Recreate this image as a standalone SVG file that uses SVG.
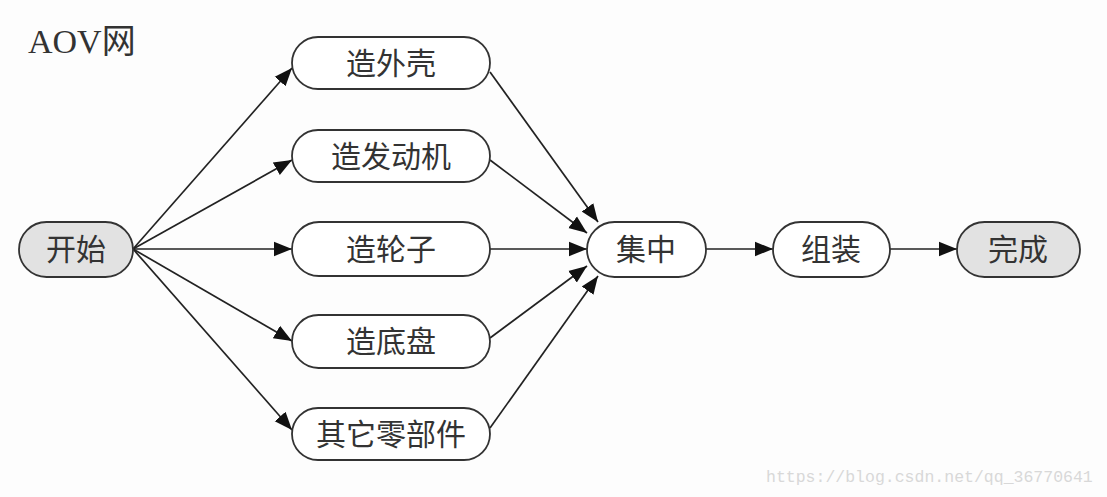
<svg xmlns="http://www.w3.org/2000/svg" width="1107" height="497" viewBox="0 0 1107 497">
<defs>
<marker id="ah" viewBox="0 0 10 10" refX="10" refY="5" markerWidth="18" markerHeight="18" markerUnits="userSpaceOnUse" orient="auto">
<path d="M0,1 L10,5 L0,9 z" fill="#111"/>
</marker>
<style>
.n rect{fill:#fff;stroke:#333;stroke-width:1.8}
.g rect{fill:#e2e2e2}
.n text{font-family:"Liberation Serif","Noto Sans CJK SC",serif;font-size:30px;fill:#333;text-anchor:middle;dominant-baseline:central}
.e path{fill:none;stroke:#222;stroke-width:1.7;marker-end:url(#ah)}
</style>
</defs>
<rect width="1107" height="497" fill="#fdfdfd"/>
<text x="28" y="53" font-family="Liberation Serif, Noto Sans CJK SC, serif" font-size="34" fill="#333">AOV网</text>
<g class="e">
<path d="M133,249 L292,68"/>
<path d="M133,249 L292,160"/>
<path d="M133,249 L292,249"/>
<path d="M133,249 L292,341"/>
<path d="M133,249 L292,430"/>
<path d="M490,72 L598,222"/>
<path d="M490,160 L587,233"/>
<path d="M490,249 L587,249"/>
<path d="M490,338 L587,266"/>
<path d="M490,428 L598,276"/>
<path d="M706,249 L773,249"/>
<path d="M890,249 L957,249"/>
</g>
<g id="start" class="n g"><rect x="19" y="222" width="114" height="55" rx="27.5"/><text x="76" y="249">开始</text></g>
<g id="shell" class="n"><rect x="292" y="37" width="198" height="52" rx="26"/><text x="391" y="63">造外壳</text></g>
<g id="engine" class="n"><rect x="292" y="130" width="198" height="52" rx="26"/><text x="391" y="156">造发动机</text></g>
<g id="wheel" class="n"><rect x="292" y="222" width="198" height="54" rx="27"/><text x="391" y="249">造轮子</text></g>
<g id="chassis" class="n"><rect x="292" y="315" width="198" height="53" rx="26.5"/><text x="391" y="341">造底盘</text></g>
<g id="other" class="n"><rect x="292" y="408" width="198" height="52" rx="26"/><text x="391" y="434">其它零部件</text></g>
<g id="gather" class="n"><rect x="587" y="222" width="119" height="55" rx="27.5"/><text x="646" y="249">集中</text></g>
<g id="assemble" class="n"><rect x="773" y="222" width="117" height="55" rx="27.5"/><text x="831" y="249">组装</text></g>
<g id="done" class="n g"><rect x="957" y="222" width="123" height="55" rx="27.5"/><text x="1018" y="249">完成</text></g>
<text x="766" y="482" font-family="Liberation Mono, monospace" font-size="16.5" fill="#d8d8d8">https://blog.csdn.net/qq_36770641</text>
</svg>
